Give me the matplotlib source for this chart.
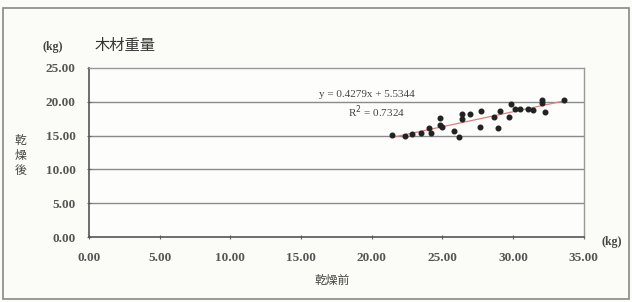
import numpy as np
import matplotlib.pyplot as plt

plt.rcParams['font.family'] = ['Noto Sans CJK JP', 'DejaVu Sans']

# 乾燥前 / 乾燥後 (kg)
before = [21.4, 22.35, 22.87, 23.46, 24.07, 24.16, 24.82, 24.82, 24.94, 25.81,
          26.19, 26.4, 26.4, 26.94, 27.65, 27.72, 28.64, 28.95, 29.07, 29.68,
          29.82, 30.13, 30.48, 31.07, 31.38, 32.06, 32.06, 32.25, 33.6]
after = [15.1, 14.9, 15.3, 15.4, 16.1, 15.4, 17.6, 16.5, 16.3, 15.7,
         14.75, 18.15, 17.4, 18.15, 16.2, 18.6, 17.7, 16.1, 18.6, 17.7,
         19.6, 19.0, 19.0, 19.0, 18.8, 20.3, 19.8, 18.5, 20.3]
xticks = [0, 5, 10, 15, 20, 25, 30, 35]
yticks = [0, 5, 10, 15, 20, 25]

x = np.array(before)
y = np.array(after)
slope, icpt = np.polyfit(x, y, 1)

fig = plt.figure(figsize=(6.32, 3.02), dpi=100)
fig.patch.set_facecolor('#fbfbf7')
frame = plt.Rectangle((0.005, 0.01), 0.99, 0.963, transform=fig.transFigure,
                      fill=False, edgecolor='#888888', lw=1.2)
fig.add_artist(frame)

ax = fig.add_axes([0.1408, 0.215, 0.783, 0.56])
ax.set_facecolor('#fdfdfb')
ax.set_xlim(0, 35)
ax.set_ylim(0, 25)

for v in yticks[1:-1]:
    ax.axhline(v, color='#8a8a8a', lw=1.0, zorder=1)

xs = np.array([x.min(), x.max()])
ax.plot(xs, slope * xs + icpt, color='#d98080', lw=0.9, zorder=2)
ax.scatter(x, y, s=11, marker='o', color='#222222', zorder=3)

tick_font = dict(family='Liberation Serif', fontsize=9.5, color='#555555', weight='bold')
ax.set_xticks(xticks)
ax.set_yticks(yticks)
ax.set_xticklabels(['%.2f' % v for v in xticks], **tick_font)
ax.set_yticklabels(['%.2f' % v for v in yticks], **tick_font)
ax.tick_params(axis='both', length=3, width=0.8, color='#666666', direction='inout')
ax.tick_params(axis='x', pad=9)
ax.tick_params(axis='y', pad=8)

for s in ['left', 'bottom']:
    ax.spines[s].set_color('#555555')
    ax.spines[s].set_linewidth(1.2)
for s in ['top', 'right']:
    ax.spines[s].set_color('#999999')
    ax.spines[s].set_linewidth(1.0)

ax.text(16.3, 20.75, 'y = 0.4279x + 5.5344', family='Liberation Serif', fontsize=8, color='#444444')
ax.text(18.3, 17.85, 'R$^2$ = 0.7324', family='Liberation Serif', fontsize=8, color='#444444')

fig.text(0.150, 0.835, '木材重量', fontsize=11, color='#333333')
fig.text(0.068, 0.835, '(kg)', family='Liberation Serif', fontsize=8.5, color='#444444', weight='bold')
fig.text(0.952, 0.19, '(kg)', family='Liberation Serif', fontsize=8.5, color='#444444', weight='bold')
fig.text(0.525, 0.06, '乾燥前', fontsize=8.5, color='#444444', ha='center')
for i, ch in enumerate('乾燥後'):
    fig.text(0.033, 0.535 - i * 0.05, ch, fontsize=8.5, color='#444444', ha='center', va='center')

fig.savefig('out.png', dpi=100, facecolor=fig.get_facecolor())
